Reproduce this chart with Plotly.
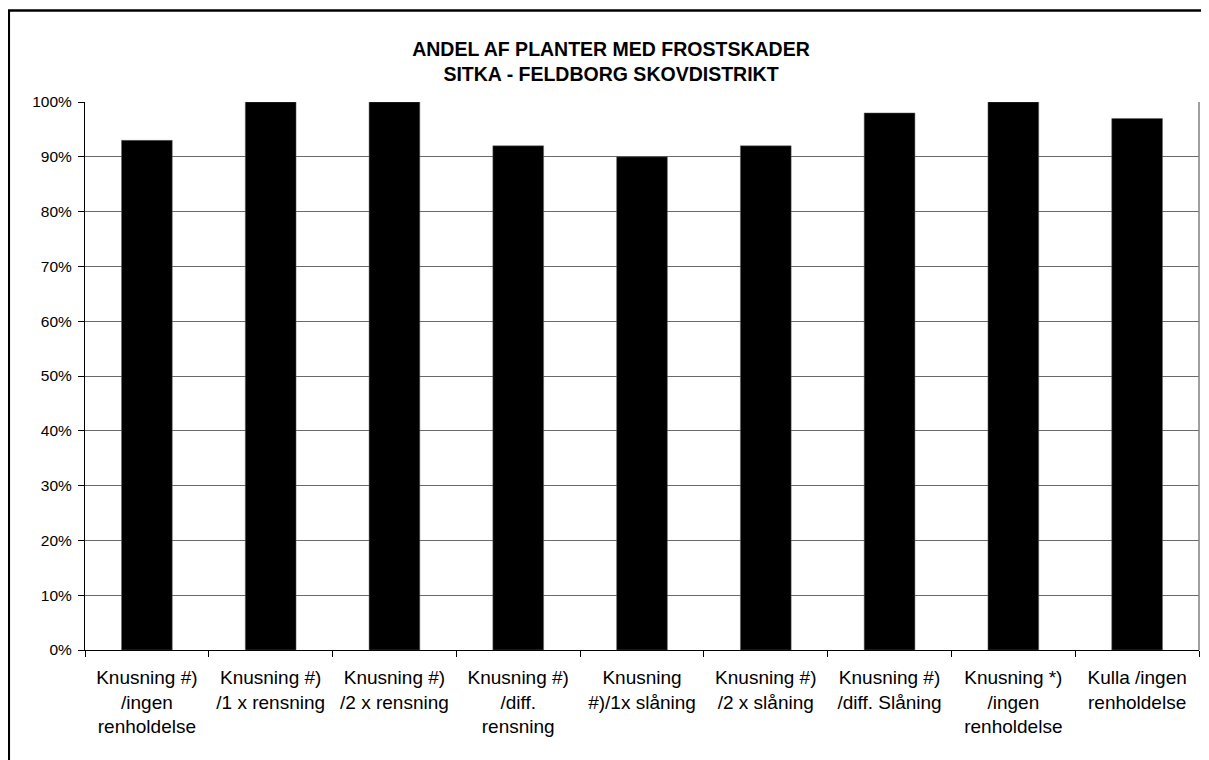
import plotly.graph_objects as go

categories = [
    "Knusning #)<br>/ingen<br>renholdelse",
    "Knusning #)<br>/1 x rensning",
    "Knusning #)<br>/2 x rensning",
    "Knusning #)<br>/diff.<br>rensning",
    "Knusning<br>#)/1x slåning",
    "Knusning #)<br>/2 x slåning",
    "Knusning #)<br>/diff. Slåning",
    "Knusning *)<br>/ingen<br>renholdelse",
    "Kulla /ingen<br>renholdelse",
]
values = [93, 100, 100, 92, 90, 92, 98, 100, 97]
y_ticks = list(range(0, 101, 10))
y_tick_labels = [f"{v}%" for v in y_ticks]

# the page body adds an 8px margin, so the figure is sized/placed to compensate
W, H = 1201, 752
L, R, T, B = 77, 10, 94, 110
PW, PH = W - L - R, H - T - B

fig = go.Figure()
fig.add_trace(go.Bar(
    x=categories,
    y=values,
    width=0.41,
    marker=dict(color="#000000", line=dict(color="#666666", width=0.5)),
    showlegend=False,
))

fig.update_layout(
    width=W, height=H,
    margin=dict(l=L, r=R, t=T, b=B, pad=0),
    paper_bgcolor="white",
    plot_bgcolor="white",
    font=dict(family="Liberation Sans, Arial, sans-serif", color="black"),
    title=dict(
        text="<b>ANDEL AF PLANTER MED FROSTSKADER<br>SITKA - FELDBORG SKOVDISTRIKT</b>",
        x=603 / W, xanchor="center",
        y=1 - 48 / H, yanchor="top",
        xref="container", yref="container",
        font=dict(size=19.5, family="Liberation Sans, Arial, sans-serif", color="black"),
    ),
)

fig.update_xaxes(
    type="category",
    showline=True, linecolor="black", linewidth=1,
    ticks="outside", ticklen=6, tickcolor="black", tickwidth=1,
    tickson="boundaries",
    tickfont=dict(size=19, color="black"),
    ticklabelstandoff=10,
    tickangle=0,
    showgrid=False,
)
fig.update_yaxes(
    range=[0, 100],
    tickvals=y_ticks, ticktext=y_tick_labels,
    showline=True, linecolor="black", linewidth=1,
    ticks="outside", ticklen=6, tickcolor="black", tickwidth=1,
    tickfont=dict(size=15.5, color="black"),
    ticklabelstandoff=3,
    showgrid=True, gridcolor="#6a6a6a", gridwidth=1,
    zeroline=False,
)

# plot-area right border (grey)
fig.add_shape(type="line", xref="paper", yref="paper", x0=1, x1=1, y0=0, y1=1,
              line=dict(color="#808080", width=1.5))
# outer chart border (left and top visible)
fig.add_shape(type="rect", xref="paper", yref="paper",
              x0=(0.8 - L) / PW, x1=(1240 - L) / PW,
              y0=(H - B - 800) / PH, y1=(H - B - 2.5) / PH,
              line=dict(color="black", width=2.5), layer="above")

fig.write_html("out.html")
